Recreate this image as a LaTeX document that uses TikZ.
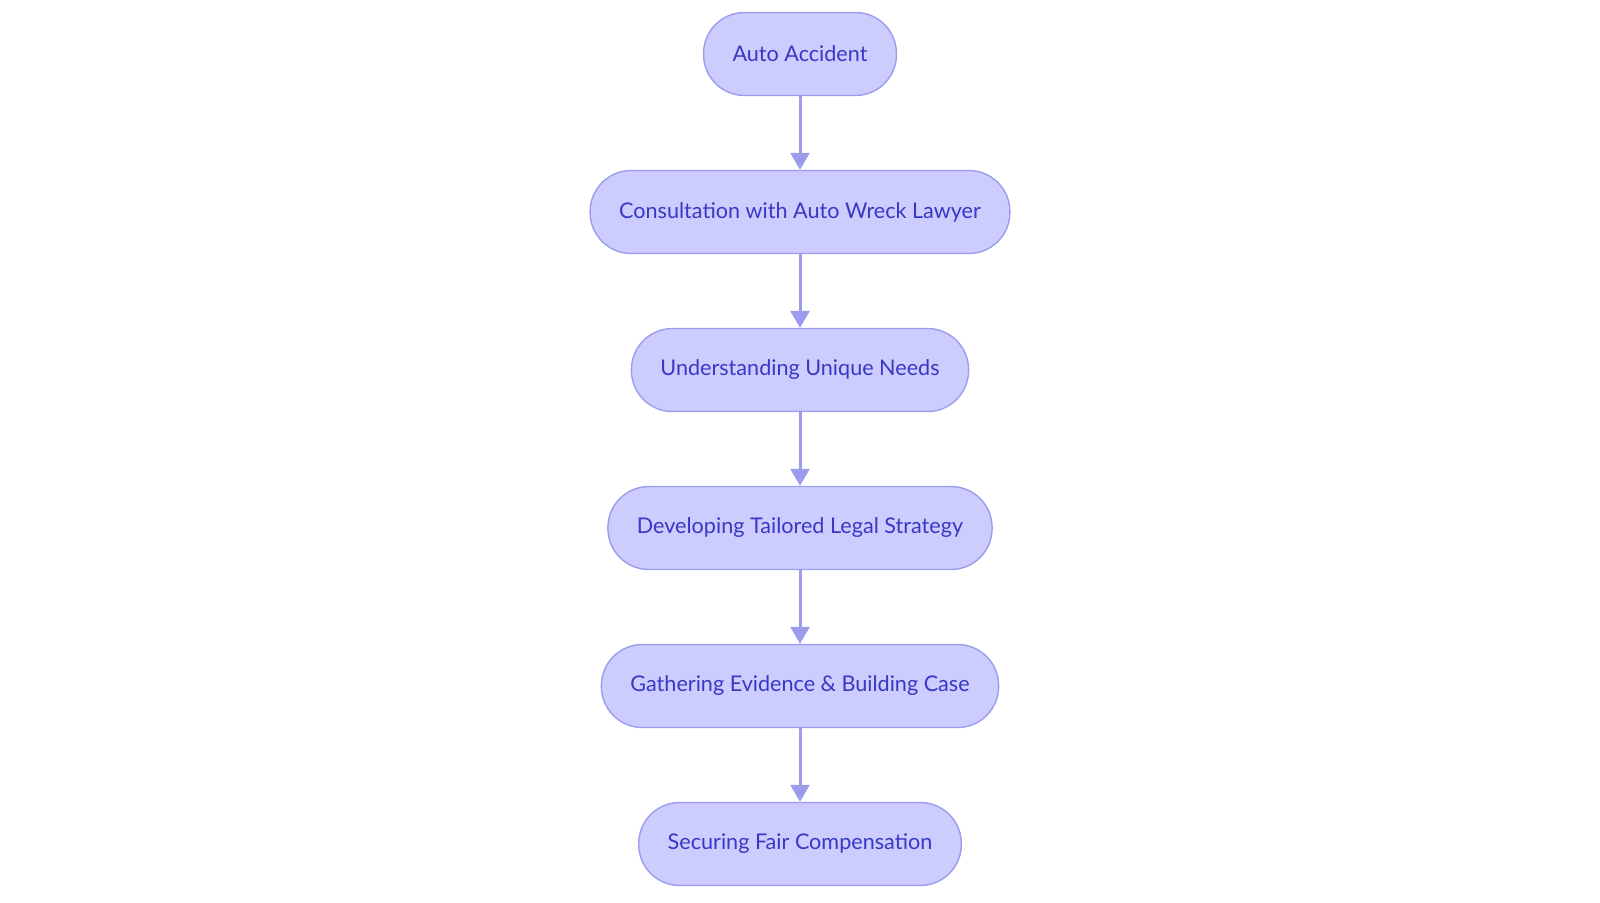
\documentclass[tikz,border=0pt]{standalone}
\usepackage{fontspec}
\setmainfont{Lato}
\usepackage{tikz}
\usetikzlibrary{positioning,arrows.meta}
\definecolor{stepfill}{HTML}{CCCCFF}
\definecolor{stepline}{HTML}{9C9CEE}
\definecolor{steptext}{HTML}{3838C4}

\begin{document}
\begin{tikzpicture}[x=1pt,y=1pt,
	stage/.style={draw=stepline,line width=1.4pt,fill=stepfill,text=steptext,rounded corners=41pt,minimum height=83pt,inner xsep=29pt,inner ysep=0pt,font=\fontsize{21.6}{25}\selectfont},
	flow/.style={draw=stepline,line width=3pt,-{Triangle[width=19pt,length=17pt]}},
	node distance=73.6pt]
	\useasboundingbox (0,0) rectangle (1600,-902);
	\node[stage] (accident) at (800,-54) {Auto Accident};
	\node[stage,below=of accident] (consult) {Consultation with Auto Wreck Lawyer};
	\node[stage,below=of consult] (needs) {Understanding Unique Needs};
	\node[stage,below=of needs] (strategy) {Developing Tailored Legal Strategy};
	\node[stage,below=of strategy] (evidence) {Gathering Evidence \& Building Case};
	\node[stage,below=of evidence] (compensation) {Securing Fair Compensation};
	\draw[flow] (accident) -- (consult);
	\draw[flow] (consult) -- (needs);
	\draw[flow] (needs) -- (strategy);
	\draw[flow] (strategy) -- (evidence);
	\draw[flow] (evidence) -- (compensation);
\end{tikzpicture}
\end{document}
